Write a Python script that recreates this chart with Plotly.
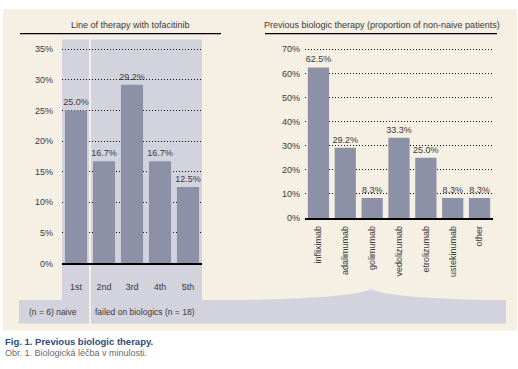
import plotly.graph_objects as go

W, H = 518, 369

# ---- data ----
line_cats = ["1st", "2nd", "3rd", "4th", "5th"]
line_vals = [25.0, 16.7, 29.2, 16.7, 12.5]
line_ticks = [0, 5, 10, 15, 20, 25, 30, 35]

bio_cats = ["infliximab", "adalimumab", "golimumab", "vedolizumab", "etrolizumab", "ustekinumab", "other"]
bio_vals = [62.5, 29.2, 8.3, 33.3, 25.0, 8.3, 8.3]
bio_ticks = [0, 10, 20, 30, 40, 50, 60, 70]

title_left = "Line of therapy with tofacitinib"
title_right = "Previous biologic therapy (proportion of non-naive patients)"
group_naive = "(n = 6) naive"
group_failed = "failed on biologics (n = 18)"
caption_en = "Fig. 1. Previous biologic therapy."
caption_cz = "Obr. 1. Biologická léčba v minulosti."

# ---- style ----
BEIGE = "#f5efe4"
LAV = "#d3d3de"
BAR = "#8d91a7"
TXT = "#3a3a3a"
FONT = "Liberation Sans"

def px(x):
    return x / W

def py(y):
    return 1 - y / H

fig = go.Figure()

fig.add_trace(go.Bar(
    x=line_cats, y=line_vals, xaxis="x", yaxis="y",
    marker=dict(color=BAR, line=dict(width=0)),
    texttemplate="%{y:.1f}%", textposition="outside", constraintext="none",
    textfont=dict(size=9, color=TXT, family=FONT), cliponaxis=False,
    hoverinfo="skip", showlegend=False,
))
fig.add_trace(go.Bar(
    x=bio_cats, y=bio_vals, xaxis="x2", yaxis="y2",
    marker=dict(color=BAR, line=dict(width=0)),
    texttemplate="%{y:.1f}%", textposition="outside", constraintext="none",
    textfont=dict(size=9, color=TXT, family=FONT), cliponaxis=False,
    hoverinfo="skip", showlegend=False,
))

L_x0, L_x1, L_y0, L_y1 = 62, 202, 267, 40
L_scale = (267 - 50) / 35.0
L_max = (L_y0 - L_y1) / L_scale
R_x0, R_x1, R_y0, R_y1 = 305, 493, 221, 40
R_scale = (221 - 50) / 70.0
R_max = (R_y0 - R_y1) / R_scale

grid = dict(showgrid=True, gridcolor="#111111", gridwidth=1, griddash="1px,2px")

fig.update_layout(
    width=W, height=H,
    margin=dict(l=0, r=0, t=0, b=0),
    paper_bgcolor="white", plot_bgcolor="rgba(0,0,0,0)",
    bargap=0.21,
    font=dict(family=FONT, size=9, color=TXT),
    xaxis=dict(domain=[px(L_x0), px(L_x1)], anchor="y", showline=True, linecolor="#000",
               linewidth=1.5, ticks="", showgrid=False, ticklabelstandoff=14,
               tickfont=dict(size=9, color=TXT)),
    yaxis=dict(domain=[py(L_y0), py(L_y1)], anchor="x", range=[0, L_max],
               tickvals=line_ticks, ticktext=[f"{t}%" for t in line_ticks],
               ticks="", showline=False, zeroline=False, ticklabelstandoff=8,
               tickfont=dict(size=9, color=TXT), **grid),
    xaxis2=dict(domain=[px(R_x0), px(R_x1)], anchor="y2", showline=True, linecolor="#000",
                linewidth=1.5, ticks="", showgrid=False, tickangle=-90, ticklabelstandoff=3,
                tickfont=dict(size=9, color=TXT)),
    yaxis2=dict(domain=[py(R_y0), py(R_y1)], anchor="x2", range=[0, R_max],
                tickvals=bio_ticks, ticktext=[f"{t}%" for t in bio_ticks],
                ticks="", showline=False, zeroline=False, ticklabelstandoff=4,
                tickfont=dict(size=9, color=TXT), **grid),
)

shapes = []
shapes.append(dict(type="rect", xref="paper", yref="paper", x0=px(3), x1=px(517), y0=py(335), y1=py(9),
                   fillcolor=BEIGE, line=dict(width=0), layer="below"))
shapes.append(dict(type="rect", xref="paper", yref="paper", x0=px(62), x1=px(89), y0=py(304), y1=py(40),
                   fillcolor=LAV, line=dict(width=0), layer="below"))
shapes.append(dict(type="rect", xref="paper", yref="paper", x0=px(91), x1=px(202), y0=py(304), y1=py(40),
                   fillcolor=LAV, line=dict(width=0), layer="below"))
shapes.append(dict(type="rect", xref="paper", yref="paper", x0=px(19), x1=px(89), y0=py(328), y1=py(304),
                   fillcolor=LAV, line=dict(width=0), layer="below"))
shapes.append(dict(type="rect", xref="paper", yref="paper", x0=px(91), x1=px(506), y0=py(328), y1=py(304),
                   fillcolor=LAV, line=dict(width=0), layer="below"))
pts = f"M {px(225)},{py(304.5)} Q {px(352)},{py(303)} {px(371)},{py(293)} Q {px(390)},{py(303)} {px(505)},{py(304.5)} Z"
shapes.append(dict(type="path", xref="paper", yref="paper", path=pts,
                   fillcolor=LAV, line=dict(width=0), layer="below"))
shapes.append(dict(type="line", xref="paper", yref="paper", x0=px(20), x1=px(221), y0=py(34), y1=py(34),
                   line=dict(color="#000", width=1.3)))
shapes.append(dict(type="line", xref="paper", yref="paper", x0=px(265), x1=px(497), y0=py(34), y1=py(34),
                   line=dict(color="#000", width=1.3)))
fig.update_layout(shapes=shapes)

ann = [
    dict(text=title_left, x=px(130), y=py(25), xanchor="center", yanchor="middle",
         font=dict(size=9, color=TXT)),
    dict(text=title_right, x=px(382), y=py(25), xanchor="center", yanchor="middle",
         font=dict(size=9, color=TXT)),
    dict(text=group_naive, x=px(79), y=py(316), xanchor="right", yanchor="middle",
         font=dict(size=8.5, color=TXT)),
    dict(text=group_failed, x=px(93), y=py(316), xanchor="left", yanchor="middle",
         font=dict(size=8.5, color=TXT)),
    dict(text="<b>" + caption_en + "</b>", x=px(3), y=py(346), xanchor="left", yanchor="middle",
         font=dict(size=9.5, color="#2b4c7e")),
    dict(text=caption_cz, x=px(3), y=py(358), xanchor="left", yanchor="middle",
         font=dict(size=9, color="#6a6a6a")),
]
for a in ann:
    a.update(xref="paper", yref="paper", showarrow=False)
fig.update_layout(annotations=ann)

fig.write_html("out.html", config={"displayModeBar": False, "staticPlot": True},
               post_script="document.body.style.margin='0';document.body.style.overflow='hidden';")
